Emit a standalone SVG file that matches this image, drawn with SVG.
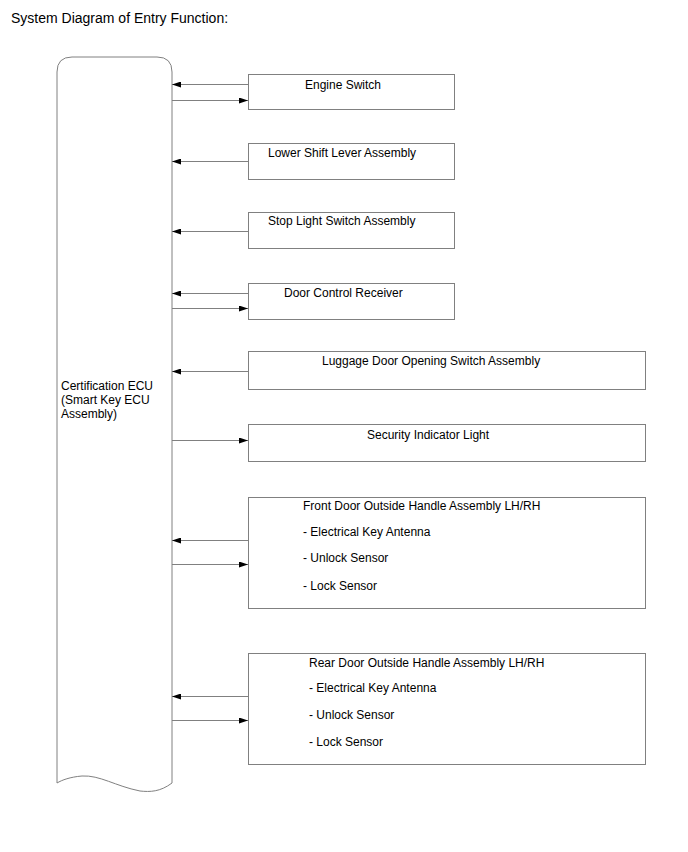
<svg xmlns="http://www.w3.org/2000/svg" width="688" height="852" viewBox="0 0 688 852">
<style>
text{font-family:"Liberation Sans",Arial,sans-serif;font-size:12px;fill:#000}
.title{font-size:14px}
.box{fill:#fff;stroke:#808080;stroke-width:1}
.ln{stroke:#808080;stroke-width:1;fill:none}
</style>
<defs>
<marker id="ah" markerWidth="9" markerHeight="6" refX="9" refY="3" orient="auto" markerUnits="userSpaceOnUse">
<path d="M0,0 L9,3 L0,6 Z" fill="#000"/>
</marker>
</defs>
<rect width="688" height="852" fill="#fff"/>
<text class="title" x="11" y="23">System Diagram of Entry Function:</text>
<g id="ecu">
<path class="box" d="M57,783 L57,72 Q57,57 72,57 L157,57 Q172,57 172,72 L172,783 C160,792 150,792 140,791 C115,786 100,775 82,776 C70,777 62,780 57,783 Z"/>
<text x="61" y="390">Certification ECU</text>
<text x="61" y="404">(Smart Key ECU</text>
<text x="61" y="418">Assembly)</text>
</g>
<g id="engine"><rect class="box" x="248.5" y="74.5" width="206" height="35"/><text x="305" y="89">Engine Switch</text></g>
<g id="shift"><rect class="box" x="248.5" y="143.5" width="206" height="36"/><text x="268" y="157">Lower Shift Lever Assembly</text></g>
<g id="stop"><rect class="box" x="248.5" y="212.5" width="206" height="36"/><text x="268" y="225">Stop Light Switch Assembly</text></g>
<g id="door"><rect class="box" x="248.5" y="283.5" width="206" height="36"/><text x="284" y="297">Door Control Receiver</text></g>
<g id="luggage"><rect class="box" x="248.5" y="351.5" width="397" height="38"/><text x="322" y="365">Luggage Door Opening Switch Assembly</text></g>
<g id="security"><rect class="box" x="248.5" y="424.5" width="397" height="37"/><text x="367" y="439">Security Indicator Light</text></g>
<g id="front"><rect class="box" x="248.5" y="497.5" width="397" height="111"/>
<text x="303" y="510">Front Door Outside Handle Assembly LH/RH</text>
<text x="303" y="536">- Electrical Key Antenna</text>
<text x="303" y="562">- Unlock Sensor</text>
<text x="303" y="590">- Lock Sensor</text></g>
<g id="rear"><rect class="box" x="248.5" y="653.5" width="397" height="111"/>
<text x="309" y="667">Rear Door Outside Handle Assembly LH/RH</text>
<text x="309" y="692">- Electrical Key Antenna</text>
<text x="309" y="719">- Unlock Sensor</text>
<text x="309" y="746">- Lock Sensor</text></g>
<g id="connectors">
<line class="ln" x1="248" y1="84.5" x2="172" y2="84.5" marker-end="url(#ah)"/>
<line class="ln" x1="172" y1="100.5" x2="248" y2="100.5" marker-end="url(#ah)"/>
<line class="ln" x1="248" y1="161.5" x2="172" y2="161.5" marker-end="url(#ah)"/>
<line class="ln" x1="248" y1="231.5" x2="172" y2="231.5" marker-end="url(#ah)"/>
<line class="ln" x1="248" y1="293.5" x2="172" y2="293.5" marker-end="url(#ah)"/>
<line class="ln" x1="172" y1="308.5" x2="248" y2="308.5" marker-end="url(#ah)"/>
<line class="ln" x1="248" y1="371.5" x2="172" y2="371.5" marker-end="url(#ah)"/>
<line class="ln" x1="172" y1="440.5" x2="248" y2="440.5" marker-end="url(#ah)"/>
<line class="ln" x1="248" y1="540.5" x2="172" y2="540.5" marker-end="url(#ah)"/>
<line class="ln" x1="172" y1="564.5" x2="248" y2="564.5" marker-end="url(#ah)"/>
<line class="ln" x1="248" y1="696.5" x2="172" y2="696.5" marker-end="url(#ah)"/>
<line class="ln" x1="172" y1="720.5" x2="248" y2="720.5" marker-end="url(#ah)"/>
</g>
</svg>
